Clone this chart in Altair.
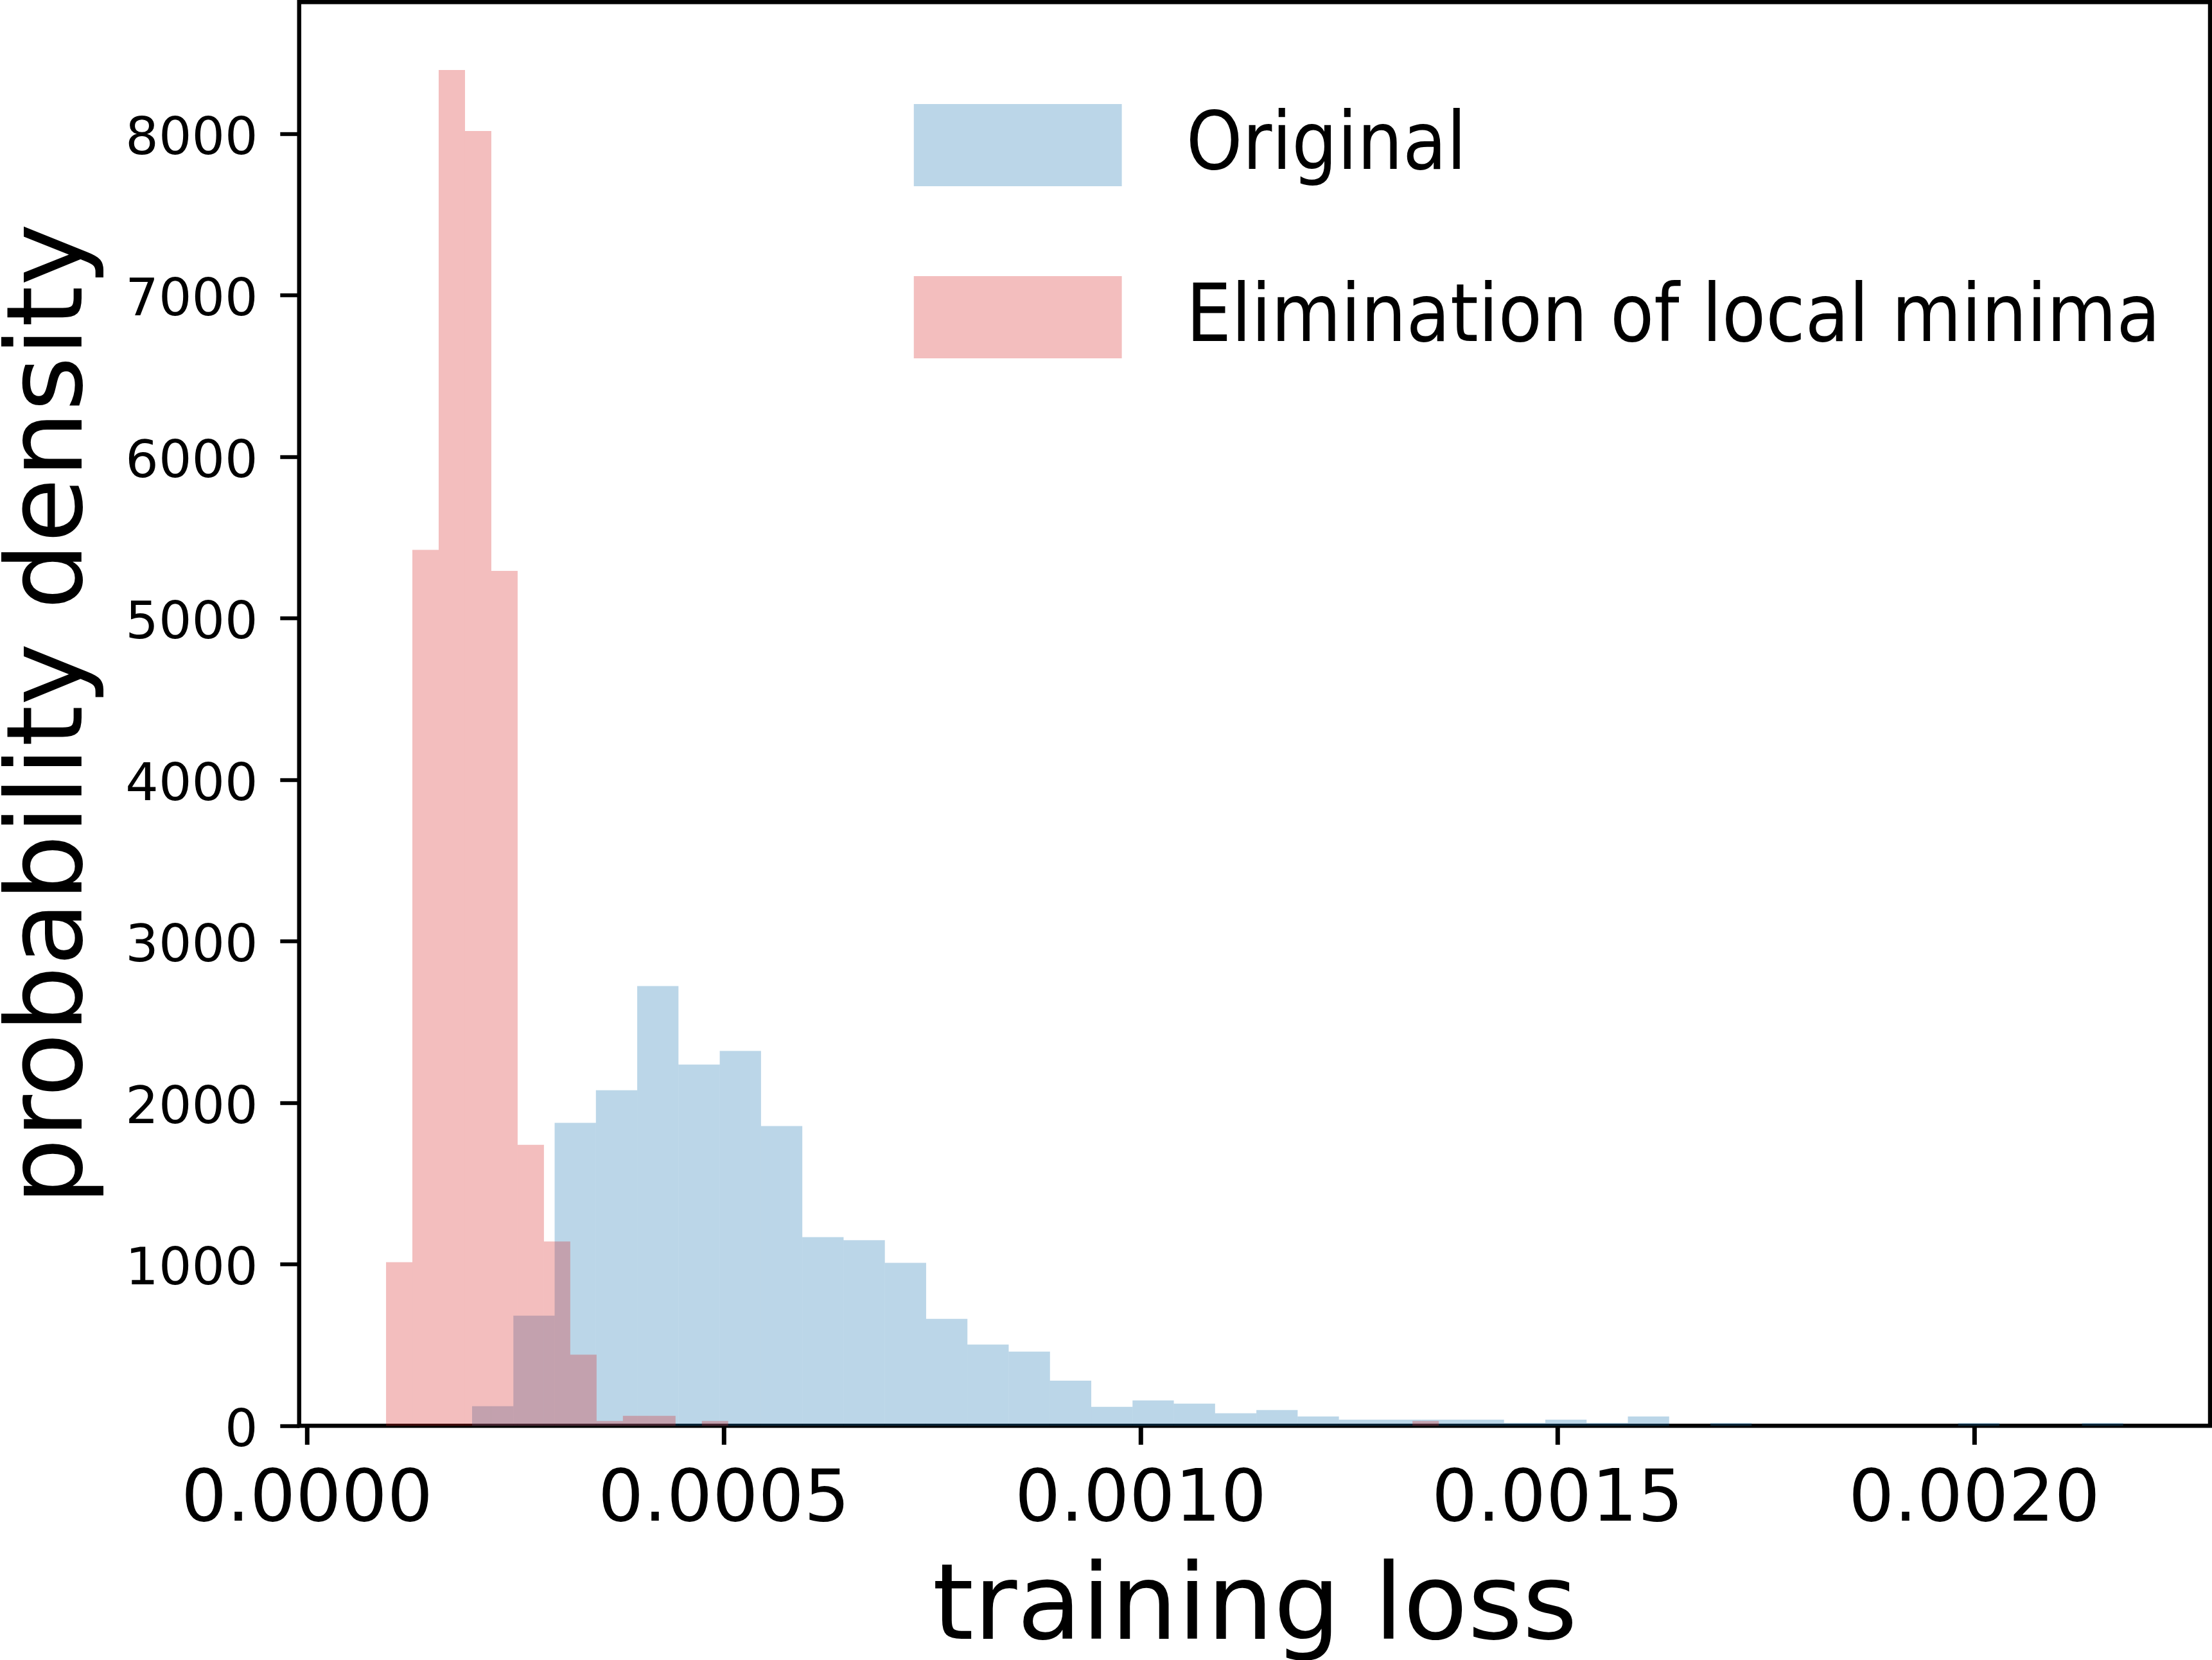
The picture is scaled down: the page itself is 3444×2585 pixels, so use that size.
import altair as alt
import numpy as np
import pandas as pd

# ---- data ----
series_names = ["Original", "Elimination of local minima"]
series_colors = ["#1f77b4", "#d62728"]

n_bins = 40

original_min = 0.0001984
original_max = 0.002179
original_density = [121, 682, 1876, 2078, 2723, 2237, 2321, 1856, 1168, 1149,
                    1009, 662, 503, 459, 280, 117, 157, 137, 78, 98,
                    58, 38, 38, 38, 38, 18, 38, 18, 58, 0,
                    18, 0, 0, 0, 0, 0, 18, 0, 0, 18]

elim_min = 0.0000952
elim_max = 0.001358
elim_density = [1013, 5424, 8395, 8017, 5293, 1740, 1141, 441, 30, 62,
                62, 0, 30, 0, 0, 0, 0, 0, 0, 0,
                0, 0, 0, 0, 0, 0, 0, 0, 0, 0,
                0, 0, 0, 0, 0, 0, 0, 0, 0, 30]

x_ticks = [0.0, 0.0005, 0.0010, 0.0015, 0.0020]
y_ticks = [0, 1000, 2000, 3000, 4000, 5000, 6000, 7000, 8000]
x_domain = [-0.00000901, 0.0022832]
y_domain = [0, 8815]

rows = []
for k, (name, lo, hi, dens) in enumerate([
        (series_names[0], original_min, original_max, original_density),
        (series_names[1], elim_min, elim_max, elim_density)]):
    edges = np.linspace(lo, hi, n_bins + 1)
    for i, d in enumerate(dens):
        rows.append({"series": name, "start": float(edges[i]),
                     "end": float(edges[i + 1]), "density": d, "order": k})
df = pd.DataFrame(rows)

W, H = 2975.2, 2217.0
PAD = {"left": 465.8, "top": 3.3, "right": 3.0, "bottom": 364.7}

legend_path = "M-2.53,-1H2.53V1H-2.53Z"

chart = alt.Chart(df).mark_rect(opacity=0.3, strokeWidth=0).encode(
    x=alt.X("start:Q",
            scale=alt.Scale(domain=x_domain, nice=False, zero=False),
            axis=alt.Axis(values=x_ticks, format=".4f", title="training loss",
                          tickSize=29, tickWidth=7, labelFontSize=112,
                          labelPadding=30.5, labelFlush=False, labelOverlap=False,
                          labelLimit=3000, titleLimit=5000,
                          titleFontSize=164, titleBaseline="alphabetic",
                          titleAlign="center", titleX=W / 2, titleY=331.4)),
    x2="end:Q",
    y=alt.Y("density:Q", stack=None,
            scale=alt.Scale(domain=y_domain, nice=False, zero=True),
            axis=alt.Axis(values=y_ticks, format="d", title="probability density",
                          tickSize=30, tickWidth=6, labelFontSize=81,
                          labelPadding=34.8, labelFlush=False, labelOverlap=False,
                          labelOffset=7, labelLimit=3000, titleLimit=5000,
                          titleFontSize=164, titleBaseline="alphabetic",
                          titleAlign="center", titleAngle=270,
                          titleX=-339.3, titleY=H / 2)),
    y2=alt.datum(0),
    color=alt.Color("series:N",
                    scale=alt.Scale(domain=series_names, range=series_colors),
                    legend=alt.Legend(orient="none", legendX=1054.9, legendY=158.7,
                                      direction="vertical", title=None,
                                      symbolType=legend_path, symbolSize=16384,
                                      symbolOpacity=0.3, symbolStrokeWidth=0,
                                      labelFont="DejaVu Sans Condensed, Liberation Sans Narrow, Open Sans",
                                      labelFontSize=124, labelColor="black",
                                      labelOffset=198, labelLimit=3000,
                                      rowPadding=140, padding=0, offset=0)),
    order=alt.Order("order:Q"),
).properties(
    width=W, height=H, padding=PAD,
    autosize=alt.AutoSizeParams(type="none"),
    background="white",
).configure_view(
    stroke="black", strokeWidth=6.5,
).configure_axis(
    domain=False, grid=False, tickColor="black", labelColor="black",
    titleColor="black", labelFont="DejaVu Sans", titleFont="DejaVu Sans",
    titleFontWeight="normal",
)

chart.save("out.html", embed_options={"renderer": "svg", "actions": False})
